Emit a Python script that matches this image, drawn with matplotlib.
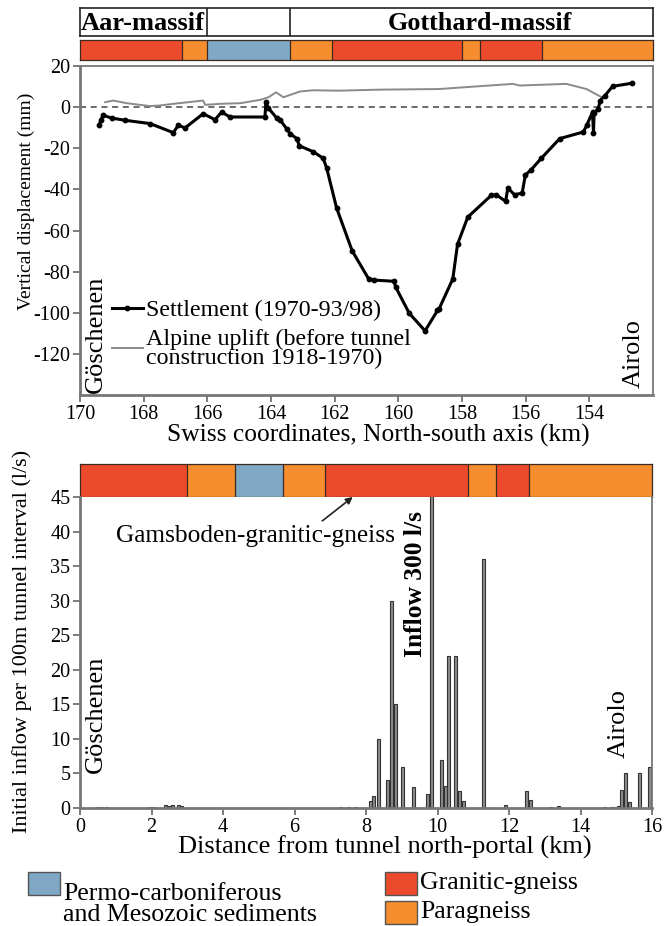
import numpy as np
import matplotlib
matplotlib.use("Agg")
import matplotlib.pyplot as plt
from matplotlib.patches import Rectangle

plt.rcParams["font.family"] = ["Liberation Serif", "DejaVu Serif"]
plt.rcParams["axes.unicode_minus"] = False

# Farben der Geologie
RED = "#ec4b2b"
ORANGE = "#f68d2e"
BLUE = "#7ea8c3"

# Geologie entlang der Schweizer Koordinate (km)
geo_top_edges = [170.0, 166.8, 166.0, 163.4, 162.07, 158.0, 157.45, 155.5, 152.0]
geo_top_units = ["granite", "para", "sediment", "para", "granite", "para", "granite", "para"]

# Geologie entlang des Tunnels (km ab Nordportal)
geo_bot_edges = [0.0, 2.99, 4.33, 5.67, 6.84, 10.84, 11.65, 12.57, 16.0]
geo_bot_units = ["granite", "para", "sediment", "para", "granite", "para", "granite", "para"]

unit_colors = {"granite": RED, "para": ORANGE, "sediment": BLUE}

massif_edges = [170.0, 166.0, 163.4, 152.0]
massif_names = ["Aar-massif", "", "Gotthard-massif"]

# Setzung 1970-93/98
settle_km = [169.39, 169.35, 169.27, 169.01, 168.59, 167.80, 167.07, 166.91, 166.70,
             166.13, 165.76, 165.55, 165.29, 164.19, 164.16, 164.08, 163.82, 163.72,
             163.51, 163.40, 163.19, 163.11, 162.67, 162.36, 162.25, 161.94, 161.45,
             160.93, 160.77, 160.14, 160.08, 159.66, 159.16, 158.77, 158.72, 158.29,
             158.14, 157.82, 157.08, 156.93, 156.63, 156.56, 156.35, 156.11, 156.01,
             155.83, 155.51, 154.93, 154.19, 154.08, 153.90, 153.87, 153.85, 153.72,
             153.66, 153.51, 153.27, 152.67]
settle_mm = [-8.5, -6.4, -4.0, -5.3, -6.4, -8.0, -12.4, -8.8, -10.1,
             -3.2, -6.1, -2.4, -4.8, -4.8, 2.4, -0.5, -5.3, -6.1,
             -10.5, -12.9, -15.3, -18.8, -21.7, -24.9, -29.7, -49.0, -69.9,
             -83.6, -84.1, -84.7, -87.6, -100.2, -108.8, -98.9, -98.1, -83.6,
             -66.7, -53.5, -42.9, -42.6, -45.8, -39.4, -42.6, -41.8, -33.0,
             -30.5, -24.9, -15.3, -12.1, -8.8, -2.4, -12.5, -3.0, -0.8,
             3.2, 5.6, 10.1, 11.6]

# Alpine Hebung 1918-1970
uplift_km = [169.21, 168.95, 168.53, 167.80, 167.49, 167.07, 166.13, 166.07, 165.60,
             164.97, 164.35, 164.08, 163.84, 163.61, 163.09, 162.67, 161.87, 160.58,
             158.72, 156.40, 156.19, 154.72, 154.09, 153.61]
uplift_mm = [2.4, 3.2, 1.9, 0.5, 0.8, 1.6, 3.2, 1.1, 1.6,
             1.9, 3.5, 4.8, 7.2, 4.8, 7.6, 8.2, 8.0, 8.5,
             8.8, 11.3, 10.5, 11.3, 8.8, 4.8]

# Anfangszufluss pro 100 m Tunnelabschnitt
inflow_km = [0.5, 0.6, 0.75, 1.95, 2.05, 2.38, 2.5, 2.6, 2.75, 2.85, 7.3, 7.5, 7.7,
             8.13, 8.22, 8.34, 8.61, 8.72, 8.82, 9.03, 9.32, 9.71, 9.82, 10.12,
             10.22, 10.32, 10.51, 10.61, 10.72, 11.30, 11.90, 12.50, 12.61, 13.17,
             13.38, 14.66, 14.86, 14.96, 15.06, 15.15, 15.26, 15.36, 15.64, 15.94]
inflow_ls = [0.1, 0.15, 0.1, 0.1, 0.15, 0.5, 0.3, 0.4, 0.4, 0.3, 0.1, 0.1, 0.1,
             1.0, 1.7, 10.0, 4.0, 30.0, 15.0, 6.0, 3.0, 2.0, 300.0, 7.0,
             3.2, 22.0, 22.0, 2.4, 1.0, 36.0, 0.5, 2.4, 1.1, 0.15,
             0.35, 0.15, 0.2, 0.2, 0.25, 2.6, 5.0, 0.8, 5.0, 6.0]

W, H = 669, 926


def ax_px(left, top, right, bottom):
    return fig.add_axes([left / W, 1 - bottom / H, (right - left) / W, (bottom - top) / H])


def draw_strip(ax, edges, units):
    for i, u in enumerate(units):
        ax.axvspan(edges[i], edges[i + 1], color=unit_colors[u], lw=0)
        if i > 0:
            ax.axvline(edges[i], color="#3a2a20", lw=0.9)
    for s in ax.spines.values():
        s.set_color("#3a2a20")
        s.set_linewidth(0.9)
    ax.set_xticks([])
    ax.set_yticks([])


def style_axes(ax):
    ax.tick_params(labelsize=14.5, length=5, width=1.2, color="#666666", pad=2)
    for s in ax.spines.values():
        s.set_color("#777777")
        s.set_linewidth(1.3)
    ax.spines["left"].set_linewidth(2)
    ax.spines["bottom"].set_linewidth(2)


fig = plt.figure(figsize=(W / 100, H / 100), dpi=100)

# ---- Kopf: Massive ----
ax_head = ax_px(80, 8, 653, 36)
ax_head.set_xlim(170, 152)
ax_head.set_ylim(0, 1)
for e in massif_edges[1:-1]:
    ax_head.axvline(e, color="#222222", lw=1.2)
ax_head.text(massif_edges[0] - 0.03, 0.45, massif_names[0], ha="left", va="center",
             fontsize=19, fontweight="bold")
ax_head.text(157.43, 0.45, massif_names[2], ha="center", va="center",
             fontsize=18.8, fontweight="bold")
for s in ax_head.spines.values():
    s.set_color("#222222")
    s.set_linewidth(1.2)
ax_head.set_xticks([])
ax_head.set_yticks([])

ax_strip1 = ax_px(80, 40, 653, 60)
ax_strip1.set_xlim(170, 152)
draw_strip(ax_strip1, geo_top_edges, geo_top_units)

# ---- Vertikale Verschiebung ----
ax1 = ax_px(80, 66, 653, 395)
ax1.set_xlim(170, 152)
ax1.set_ylim(-140, 20)
ax1.axhline(0, color="#444444", lw=1.1, ls=(0, (4, 3)))
ax1.plot(uplift_km, uplift_mm, color="#8a8a8a", lw=1.4,
         label="Alpine uplift (before tunnel\nconstruction 1918-1970)")
ax1.plot(settle_km, settle_mm, color="black", lw=2.2, marker="o", ms=3.2,
         label="Settlement (1970-93/98)")
ax1.set_xticks(np.arange(170, 153, -2))
ax1.set_yticks(np.arange(20, -121, -20))
ax1.set_xlabel("Swiss coordinates, North-south axis (km)", fontsize=18.4, labelpad=0)
ax1.xaxis.set_label_coords(0.52, -0.087)
ax1.set_ylabel("Vertical displacement (mm)", fontsize=14)
ax1.yaxis.set_label_coords(-0.079, 0.59)
style_axes(ax1)
h, l = ax1.get_legend_handles_labels()
leg = ax1.legend(h[::-1], l[::-1], loc="upper left", bbox_to_anchor=(0.055, 0.29),
                 frameon=False, fontsize=17.3, handlelength=1.3, handletextpad=0.15,
                 labelspacing=0.3, borderaxespad=0, borderpad=0)
for t in leg.get_texts():
    t.set_linespacing(0.85)
ax1.text(0.008, 0.005, "Göschenen", transform=ax1.transAxes, rotation=90,
         ha="left", va="bottom", fontsize=19)
ax1.text(0.985, 0.02, "Airolo", transform=ax1.transAxes, rotation=90,
         ha="right", va="bottom", fontsize=19)

# ---- Zufluss ----
ax_strip2 = ax_px(80, 464, 652, 497)
ax_strip2.set_xlim(0, 16)
draw_strip(ax_strip2, geo_bot_edges, geo_bot_units)

ax2 = ax_px(80, 497, 652, 808)
ax2.set_xlim(0, 16)
ax2.set_ylim(0, 45)
ax2.bar(inflow_km, inflow_ls, width=0.085, color="#8c8c8c", edgecolor="#333333", lw=0.8)
ax2.set_xticks(np.arange(0, 17, 2))
ax2.set_yticks(np.arange(0, 46, 5))
ax2.set_xlabel("Distance from tunnel north-portal (km)", fontsize=19, labelpad=0)
ax2.xaxis.set_label_coords(0.533, -0.088)
ax2.set_ylabel("Initial inflow per 100m tunnel interval (l/s)", fontsize=16)
ax2.yaxis.set_label_coords(-0.084, 0.537)
style_axes(ax2)
ax2.spines["top"].set_visible(False)
ax2.text(0.009, 0.113, "Göschenen", transform=ax2.transAxes, rotation=90,
         ha="left", va="bottom", fontsize=19)
ax2.text(0.961, 0.161, "Airolo", transform=ax2.transAxes, rotation=90,
         ha="right", va="bottom", fontsize=19)
big = int(np.argmax(inflow_ls))
ax2.text(inflow_km[big] - 0.1, 45 - 14 / 6.9, f"Inflow {inflow_ls[big]:.0f} l/s", rotation=90,
         ha="right", va="top", fontsize=18.4, fontweight="bold")
ax2.annotate("Gamsboden-granitic-gneiss", xy=(7.63, 45), xytext=(4.9, 39.3),
             ha="center", va="center", fontsize=18.3, annotation_clip=False,
             arrowprops=dict(arrowstyle="-|>", color="#222222", lw=1.2,
                             shrinkA=2, shrinkB=0, mutation_scale=10,
                             relpos=(0.72, 1.0)))

# ---- Legende ----
legend_items = [
    (BLUE, "Permo-carboniferous\nand Mesozoic sediments", 28, 872),
    (RED, "Granitic-gneiss", 385, 872),
    (ORANGE, "Paragneiss", 385, 901),
]
for color, text, px, py in legend_items:
    fig.add_artist(Rectangle((px / W, 1 - (py + 23) / H), 32 / W, 23 / H,
                             transform=fig.transFigure, facecolor=color,
                             edgecolor="#555555", lw=1))
    fig.text((px + 35) / W, 1 - (py + 11) / H, text, ha="left",
             va="top" if "\n" in text else "center", fontsize=18.6,
             linespacing=0.95)

fig.savefig("out.png", dpi=100)
